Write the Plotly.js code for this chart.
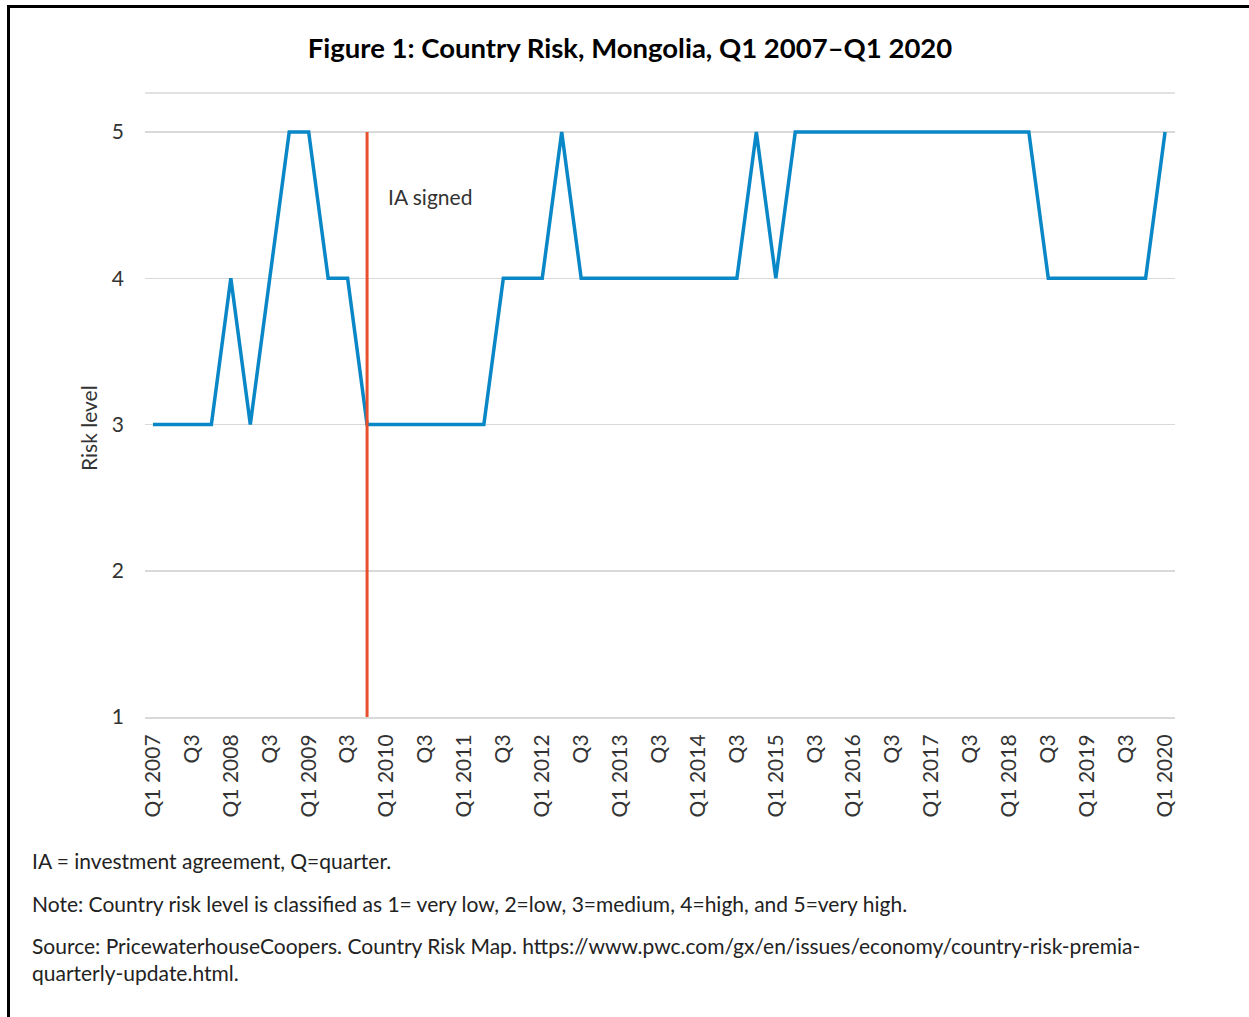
<!DOCTYPE html>
<html>
<head>
<meta charset="utf-8">
<script src="https://cdn.plot.ly/plotly-3.0.1.min.js"></script>
<style>html,body{margin:0;padding:0;background:#fff;}#chart{width:1249px;height:1017px;}</style>
</head>
<body>
<div id="chart"></div>
<script>
const quarters = [
 "Q1 2007","Q2 2007","Q3 2007","Q4 2007",
 "Q1 2008","Q2 2008","Q3 2008","Q4 2008",
 "Q1 2009","Q2 2009","Q3 2009","Q4 2009",
 "Q1 2010","Q2 2010","Q3 2010","Q4 2010",
 "Q1 2011","Q2 2011","Q3 2011","Q4 2011",
 "Q1 2012","Q2 2012","Q3 2012","Q4 2012",
 "Q1 2013","Q2 2013","Q3 2013","Q4 2013",
 "Q1 2014","Q2 2014","Q3 2014","Q4 2014",
 "Q1 2015","Q2 2015","Q3 2015","Q4 2015",
 "Q1 2016","Q2 2016","Q3 2016","Q4 2016",
 "Q1 2017","Q2 2017","Q3 2017","Q4 2017",
 "Q1 2018","Q2 2018","Q3 2018","Q4 2018",
 "Q1 2019","Q2 2019","Q3 2019","Q4 2019",
 "Q1 2020"
];
const riskLevel = [
 3,3,3,3,
 4,3,4,5,
 5,4,4,3,
 3,3,3,3,
 3,3,4,4,
 4,5,4,4,
 4,4,4,4,
 4,4,4,5,
 4,5,5,5,
 5,5,5,5,
 5,5,5,5,
 5,5,4,4,
 4,4,4,4,
 5
];
const tickVals = [
 "Q1 2007","Q3 2007","Q1 2008","Q3 2008","Q1 2009","Q3 2009","Q1 2010","Q3 2010",
 "Q1 2011","Q3 2011","Q1 2012","Q3 2012","Q1 2013","Q3 2013","Q1 2014","Q3 2014",
 "Q1 2015","Q3 2015","Q1 2016","Q3 2016","Q1 2017","Q3 2017","Q1 2018","Q3 2018",
 "Q1 2019","Q3 2019","Q1 2020"
];
const tickText = [
 "Q1 2007","Q3","Q1 2008","Q3","Q1 2009","Q3","Q1 2010","Q3",
 "Q1 2011","Q3","Q1 2012","Q3","Q1 2013","Q3","Q1 2014","Q3",
 "Q1 2015","Q3","Q1 2016","Q3","Q1 2017","Q3","Q1 2018","Q3",
 "Q1 2019","Q3","Q1 2020"
];
const yTicks = [1,2,3,4,5];
const iaQuarter = "Q4 2009";
const iaLabel = "IA signed";
const yTitle = "Risk level";
const notes = [
 "IA = investment agreement, Q=quarter.",
 "Note: Country risk level is classified as 1= very low, 2=low, 3=medium, 4=high, and 5=very high.",
 "Source: PricewaterhouseCoopers. Country Risk Map. https://www.pwc.com/gx/en/issues/economy/country-risk-premia-<br>quarterly-update.html."
];

const FONT = "Lato, 'Open Sans', sans-serif";
const L = 145, R = 74, T = 93, B = 300, W = 1249, H = 1017;
const PW = W - L - R, PH = H - T - B;
const px = x => (x - L) / PW;
const py = y => (H - B - y) / PH;

const trace = {
  type: "scatter", mode: "lines",
  x: quarters, y: riskLevel,
  line: {color: "#0a87c6", width: 3.5},
  hoverinfo: "x+y"
};

const layout = {
  width: W, height: H,
  margin: {l: L, r: R, t: T, b: B},
  paper_bgcolor: "#fff", plot_bgcolor: "#fff",
  showlegend: false,
  font: {family: FONT, color: "#333", size: 20},
  title: {
    text: "<b>Figure 1: Country Risk, Mongolia, Q1 2007–Q1 2020</b>",
    font: {family: FONT, size: 27.5, color: "#000"},
    x: px(630), xanchor: "center", xref: "paper",
    y: 1 - 48 / H, yanchor: "middle", yref: "container"
  },
  xaxis: {
    type: "category",
    categoryorder: "array", categoryarray: quarters,
    range: [-0.41, 52.51],
    tickmode: "array", tickvals: tickVals, ticktext: tickText,
    tickangle: -90,
    tickfont: {family: FONT, size: 21, color: "#333"},
    showgrid: false, showline: true, linecolor: "#d9d9d9", linewidth: 2,
    ticks: "", ticklabelstandoff: 7, fixedrange: true
  },
  yaxis: {
    range: [1, 5.267],
    tickmode: "array", tickvals: yTicks, ticktext: yTicks.map(String),
    tickfont: {family: FONT, size: 21, color: "#333"},
    showgrid: true, gridcolor: "#d9d9d9", gridwidth: 1.5,
    zeroline: false, showline: false, ticks: "",
    ticklabelstandoff: 20,
    fixedrange: true
  },
  shapes: [
    {type: "line", xref: "paper", yref: "paper", x0: 0, x1: 1, y0: 1, y1: 1,
     line: {color: "#d9d9d9", width: 1.5}},
    {type: "line", xref: "x", yref: "y", x0: iaQuarter, x1: iaQuarter, y0: 1, y1: 5,
     line: {color: "#e8502c", width: 3}},
    {type: "rect", xref: "paper", yref: "paper",
     x0: px(8.5), x1: px(1255), y0: py(6.5), y1: py(1025),
     line: {color: "#000", width: 3}, fillcolor: "rgba(0,0,0,0)", layer: "above"}
  ],
  annotations: [
    {xref: "paper", yref: "paper", x: px(88), y: py(428), text: yTitle, showarrow: false,
     textangle: -90, xanchor: "center", yanchor: "middle",
     font: {family: FONT, size: 21, color: "#333"}},
    {xref: "x", yref: "y", x: iaQuarter, y: 4.56, text: iaLabel, showarrow: false,
     xanchor: "left", yanchor: "middle", xshift: 19,
     font: {family: FONT, size: 21, color: "#333"}},
    {xref: "paper", yref: "paper", x: px(30), y: py(860), text: notes[0], showarrow: false,
     xanchor: "left", yanchor: "middle", align: "left",
     font: {family: FONT, size: 21, color: "#222"}},
    {xref: "paper", yref: "paper", x: px(30), y: py(903), text: notes[1], showarrow: false,
     xanchor: "left", yanchor: "middle", align: "left",
     font: {family: FONT, size: 21, color: "#222"}},
    {xref: "paper", yref: "paper", x: px(30), y: py(931), text: notes[2], showarrow: false,
     xanchor: "left", yanchor: "top", align: "left",
     font: {family: FONT, size: 21, color: "#222"}}
  ]
};

Plotly.newPlot("chart", [trace], layout, {displayModeBar: false, staticPlot: true});
</script>
</body>
</html>
